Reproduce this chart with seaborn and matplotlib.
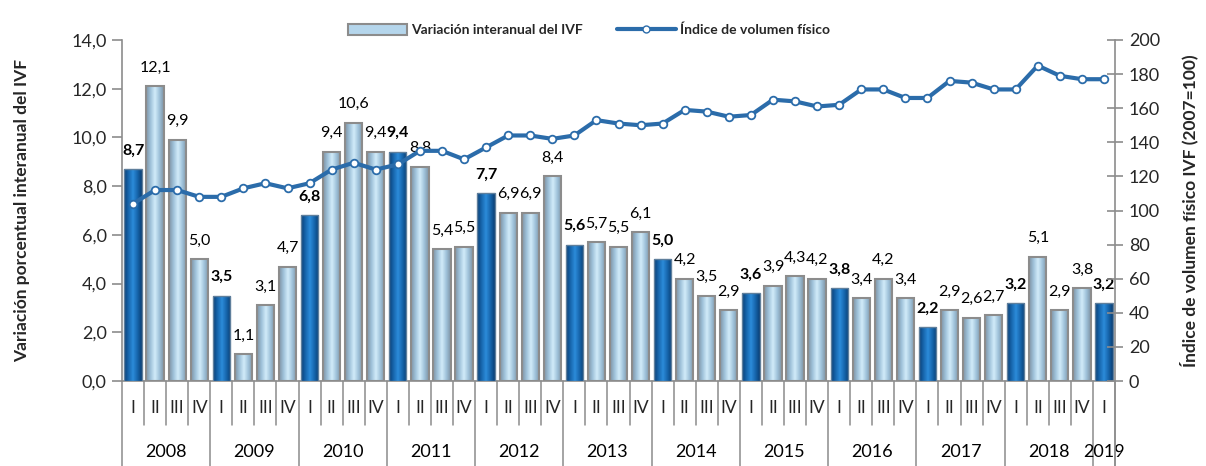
import numpy as np
import pandas as pd
import matplotlib
matplotlib.use("Agg")
import matplotlib.pyplot as plt
import matplotlib.transforms as mtransforms
from matplotlib.colors import LinearSegmentedColormap
from matplotlib.lines import Line2D
from matplotlib.patches import Patch
import seaborn as sns

# ---------------- data ----------------
years = ["2008", "2009", "2010", "2011", "2012", "2013", "2014",
         "2015", "2016", "2017", "2018", "2019"]
quarters = ["I", "II", "III", "IV"] * 11 + ["I"]
variacion = [8.7, 12.1, 9.9, 5.0,
             3.5, 1.1, 3.1, 4.7,
             6.8, 9.4, 10.6, 9.4,
             9.4, 8.8, 5.4, 5.5,
             7.7, 6.9, 6.9, 8.4,
             5.6, 5.7, 5.5, 6.1,
             5.0, 4.2, 3.5, 2.9,
             3.6, 3.9, 4.3, 4.2,
             3.8, 3.4, 4.2, 3.4,
             2.2, 2.9, 2.6, 2.7,
             3.2, 5.1, 2.9, 3.8,
             3.2]
ivf = [104, 112, 112, 108,
       108, 113, 116, 113,
       116, 124, 128, 124,
       127, 135, 135, 130,
       137, 144, 144, 142,
       144, 153, 151, 150,
       151, 159, 158, 155,
       156, 165, 164, 161,
       162, 171, 171, 166,
       166, 176, 175, 171,
       171, 185, 179, 177,
       177]
left_ticks = [0, 2, 4, 6, 8, 10, 12, 14]
right_ticks = [0, 20, 40, 60, 80, 100, 120, 140, 160, 180, 200]
label_bar = "Variación interanual del IVF"
label_line = "Índice de volumen físico"
ylabel_left = "Variación porcentual interanual del IVF"
ylabel_right = "Índice de volumen físico IVF (2007=100)"

# ---------------- style ----------------
sns.set_theme(style="white")
plt.rcParams['font.family'] = ['Lato', 'DejaVu Sans']
GRAY = "#8C8C8C"
LINE_BLUE = "#2B6CAA"

fig = plt.figure(figsize=(12.06, 4.66), dpi=100)
ax = fig.add_axes([122 / 1206, 1 - 381 / 466, (1115 - 122) / 1206, (381 - 40) / 466])

pos = np.arange(len(variacion))
df = pd.DataFrame({"pos": pos, "variacion": variacion})
sns.barplot(data=df, x="pos", y="variacion", ax=ax, color="#A9CFE8",
            width=0.78, saturation=1, edgecolor=GRAY, linewidth=1.5, zorder=3)

light_cmap = LinearSegmentedColormap.from_list(
    "light", ["#7E93A5", "#9FC2DA", "#D2ECFA", "#9FC2DA", "#7E93A5"])
dark_cmap = LinearSegmentedColormap.from_list(
    "dark", ["#0A3F75", "#1766AD", "#2C8CDA", "#1766AD", "#0A3F75"])
grad = np.linspace(0, 1, 64).reshape(1, -1)
for i, p in enumerate(ax.patches):
    x0, w, h = p.get_x(), p.get_width(), p.get_height()
    q1 = quarters[i] == "I"
    p.set_facecolor("none")
    if q1:
        p.set_edgecolor("#5F7F9C")
        p.set_linewidth(1.0)
    im = ax.imshow(grad, cmap=dark_cmap if q1 else light_cmap,
                   extent=[x0, x0 + w, 0, h], aspect="auto",
                   interpolation="bilinear", zorder=2.9)
    im.set_clip_path(p)

for i, v in enumerate(variacion):
    ax.annotate(f"{v:.1f}".replace(".", ","), (pos[i], v),
                xytext=(0, 13.5), textcoords="offset points",
                ha="center", va="center", fontsize=11.5,
                fontweight="bold" if quarters[i] == "I" else "normal",
                color="black", zorder=5)

ax.set_xlim(-0.5, len(variacion) - 0.5)
ax.set_ylim(0, 14)
ax.set_yticks(left_ticks)
ax.set_yticklabels([f"{t:.1f}".replace(".", ",") for t in left_ticks], fontsize=13)
ax.set_xticks(pos)
ax.set_xticklabels(quarters, fontsize=12.5)
ax.tick_params(axis="x", length=0, pad=14)
ax.tick_params(axis="y", direction="out", length=7, width=1.2, color=GRAY,
               left=True, pad=4)
ax.set_xlabel("")
ax.set_ylabel(ylabel_left, fontsize=12.5, fontweight="bold", labelpad=30)
for s in ["top", "right"]:
    ax.spines[s].set_visible(False)
for s in ["left", "bottom"]:
    ax.spines[s].set_color(GRAY)
    ax.spines[s].set_linewidth(1.2)

# category separators and year labels
trans = mtransforms.blended_transform_factory(ax.transData, ax.transAxes)
n = len(variacion)
for k in range(n + 1):
    year_edge = (k % 4 == 0) or (k == n)
    y0 = -0.25 if year_edge else -0.13
    ax.plot([k - 0.5, k - 0.5], [0, y0], transform=trans, clip_on=False,
            color=GRAY, lw=1.1, zorder=1)
for j, yr in enumerate(years):
    idx = [i for i in range(n) if i // 4 == j]
    ax.text(np.mean([pos[i] for i in idx]), -0.208, yr, transform=trans,
            ha="center", va="center", fontsize=13, color="black")

# line on secondary axis
ax2 = ax.twinx()
sns.lineplot(x=pos, y=ivf, ax=ax2, color=LINE_BLUE, linewidth=3,
             marker="o", markersize=5.5, markerfacecolor="white",
             markeredgecolor=LINE_BLUE, markeredgewidth=1.3, zorder=6)
ax2.set_ylim(0, 200)
ax2.set_yticks(right_ticks)
ax2.set_yticklabels([str(t) for t in right_ticks], fontsize=13)
ax2.tick_params(axis="y", direction="inout", length=12, width=1.2, color=GRAY,
                right=True, pad=4)
ax2.set_ylabel(ylabel_right, fontsize=12.5, fontweight="bold", labelpad=14)
for s in ["top", "left", "bottom"]:
    ax2.spines[s].set_visible(False)
ax2.spines["right"].set_color(GRAY)
ax2.spines["right"].set_linewidth(1.2)
ax2.spines["right"].set_bounds(0, 200)
ax2.plot([1, 1], [0, -0.25], transform=ax2.transAxes, clip_on=False,
         color=GRAY, lw=1.1)

handles = [Patch(facecolor="#B5D6EC", edgecolor=GRAY, linewidth=1.5),
           Line2D([0], [0], color=LINE_BLUE, lw=3, marker="o", markersize=5,
                  markerfacecolor="white", markeredgecolor=LINE_BLUE)]
fig.legend(handles, [label_bar, label_line], loc="center",
           bbox_to_anchor=(589 / 1206, 1 - 30 / 466), ncol=2, frameon=False,
           prop={"size": 10, "weight": "bold"}, handlelength=4.2,
           handleheight=0.9, columnspacing=2.5, handletextpad=0.3)

fig.savefig("out.png", dpi=100)
